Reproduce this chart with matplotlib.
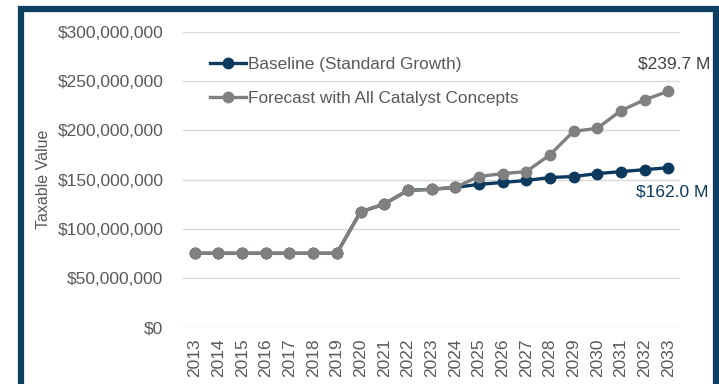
import matplotlib
matplotlib.use("Agg")
import matplotlib.pyplot as plt
from matplotlib.patches import Rectangle
from matplotlib.ticker import FuncFormatter

plt.rcParams['font.family'] = ['Liberation Sans', 'DejaVu Sans']

# данні з графіка
years = list(range(2013, 2034))
baseline = [75, 75, 75, 75, 75, 75, 75, 117, 125, 139, 140, 142,
            145, 147, 149, 152, 153, 156, 158, 160, 162.0]
forecast = [75, 75, 75, 75, 75, 75, 75, 117, 125, 139, 140, 142,
            153, 156, 158, 175, 199, 202, 220, 231, 239.7]
labels = ['Baseline (Standard Growth)', 'Forecast with All Catalyst Concepts']

navy = '#0c3a5e'
gray = '#808080'
text_gray = '#595959'

fig = plt.figure(figsize=(7.19, 3.84), dpi=100)
ax = fig.add_axes([0.2545, 0.1484, 0.6913, 0.7683])

ax.plot(years, [v * 1e6 for v in baseline], color=navy, lw=2.4, marker='o',
        markersize=7.5, label=labels[0], zorder=3)
ax.plot(years, [v * 1e6 for v in forecast], color=gray, lw=2.4, marker='o',
        markersize=7.5, label=labels[1], zorder=4)

ax.set_xlim(2012.5, 2033.5)
ax.set_ylim(0, 300e6)
ax.set_yticks([i * 50e6 for i in range(7)])
ax.yaxis.set_major_formatter(FuncFormatter(lambda v, p: f'${v:,.0f}'))
ax.set_xticks(years)
ax.set_xticklabels([str(y) for y in years], rotation=90)
ax.tick_params(length=0, labelsize=12.5, labelcolor=text_gray)
ax.tick_params(axis='y', pad=14)
ax.tick_params(axis='x', pad=8)
ax.grid(axis='y', color='#d9d9d9', lw=1)
ax.set_axisbelow(True)
for s in ax.spines.values():
    s.set_visible(False)
ax.set_ylabel('Taxable Value', fontsize=11.5, color=text_gray, labelpad=5)

ax.legend(loc='upper left', bbox_to_anchor=(0.04, 0.94), frameon=False,
          fontsize=12.4, labelcolor=text_gray, labelspacing=1.1,
          handlelength=2.1, handletextpad=0.1, borderaxespad=0)

ax.annotate(f'${forecast[-1]:.1f} M', (years[-1], forecast[-1] * 1e6),
            xytext=(4, 14), textcoords='offset points', ha='center',
            va='bottom', fontsize=12.5, color='#404040')
ax.annotate(f'${baseline[-1]:.1f} M', (years[-1], baseline[-1] * 1e6),
            xytext=(3, -12), textcoords='offset points', ha='center',
            va='top', fontsize=12.5, color=navy)

# рамка навколо графіка
fig.patches.append(Rectangle((21 / 719, -0.05), 695 / 719, 1 - 9 / 384 + 0.05,
                             transform=fig.transFigure, fill=False,
                             edgecolor='#0d3f62', lw=4.5))

fig.savefig('out.png', dpi=100)
